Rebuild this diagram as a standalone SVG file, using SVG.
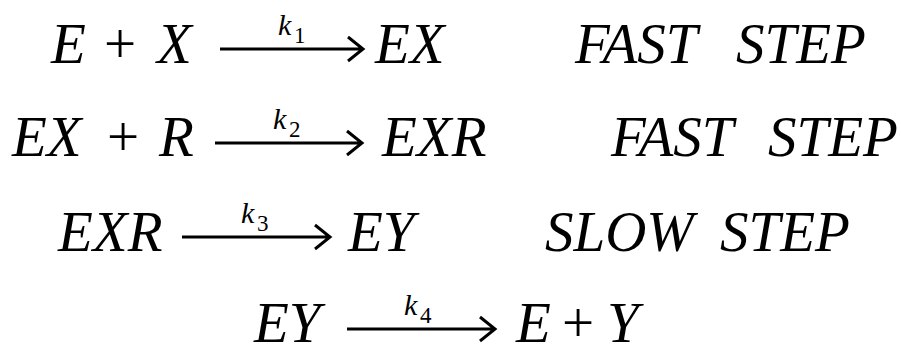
<svg xmlns="http://www.w3.org/2000/svg" width="901" height="346" viewBox="0 0 901 346">
<style>
.m{font-style:italic;font-size:57px}
.p{font-size:57px}
.k{font-style:italic;font-size:30px}
.s{font-size:23px}
.a{fill:none;stroke:#000;stroke-width:3}
</style>
<rect width="901" height="346" fill="#fff"/>
<g font-family="Liberation Serif, 'Times New Roman', serif" fill="#000">
<g id="row1">
<text class="m" x="51" y="63">E</text>
<text class="p" x="104" y="63">+</text>
<text class="m" x="157" y="63">X</text>
<path class="a" d="M220 49H362M348 37L363 49L348 61"/>
<text class="k" x="278" y="35">k</text><text class="s" x="294" y="43">1</text>
<text class="m" x="375" y="63">EX</text>
<text class="m" x="575" y="63">FAST</text>
<text class="m" x="736" y="63">STEP</text>
</g>
<g id="row2">
<text class="m" x="12" y="156">EX</text>
<text class="p" x="107" y="156">+</text>
<text class="m" x="159" y="156">R</text>
<path class="a" d="M215 143H361M347 131L362 143L347 155"/>
<text class="k" x="273" y="129">k</text><text class="s" x="289" y="137">2</text>
<text class="m" x="382" y="156">EXR</text>
<text class="m" x="611" y="156">FAST</text>
<text class="m" x="768" y="156">STEP</text>
</g>
<g id="row3">
<text class="m" x="58" y="251">EXR</text>
<path class="a" d="M182 237H329M315 225L330 237L315 249"/>
<text class="k" x="241" y="223">k</text><text class="s" x="257" y="231">3</text>
<text class="m" x="348" y="251">EY</text>
<text class="m" x="545" y="251">SLOW</text>
<text class="m" x="720" y="251">STEP</text>
</g>
<g id="row4">
<text class="m" x="254" y="342">EY</text>
<path class="a" d="M347 329H494M480 317L495 329L480 341"/>
<text class="k" x="404" y="315">k</text><text class="s" x="420" y="323">4</text>
<text class="m" x="516" y="342">E</text>
<text class="p" x="562" y="342">+</text>
<text class="m" x="607" y="342">Y</text>
</g>
</g>
</svg>
